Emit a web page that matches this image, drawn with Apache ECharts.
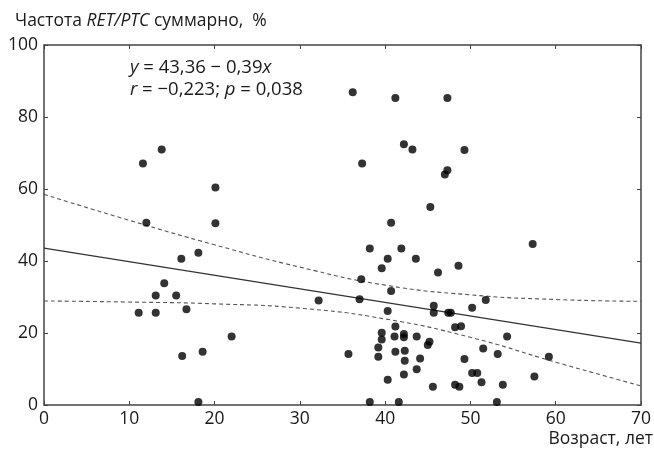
<!DOCTYPE html>
<html>
<head>
<meta charset="utf-8">
<script src="https://cdn.jsdelivr.net/npm/echarts@6/dist/echarts.min.js"></script>
<style>
  html, body { margin: 0; padding: 0; background: #fff; }
  #chart { width: 654px; height: 452px; }
</style>
</head>
<body>
<div id="chart"></div>
<script>
// Scatter points: [age, frequency %]
const pointsLeft = [
  [13.8,71.0],[11.6,67.1],[20.1,60.4],[12.0,50.6],[20.1,50.5],[16.1,40.6],[18.1,42.3],
  [14.1,33.8],[13.1,30.4],[15.5,30.4],[11.1,25.6],[13.1,25.6],[16.7,26.6],[22.0,19.0],
  [16.2,13.6],[18.6,14.8],[18.1,0.8]
];
const pointsTop = [
  [36.2,86.9],[41.2,85.3],[47.3,85.3],[42.2,72.4],[43.2,71.0],[37.3,67.1],[47.0,64.0],
  [47.3,65.2],[49.3,70.8]
];
const pointsMiddle = [
  [45.3,55.0],[40.7,50.6],[38.2,43.5],[41.9,43.5],[40.3,40.6],[43.6,40.6],[39.6,38.0],
  [46.2,36.8],[48.6,38.7],[37.2,34.9],[40.7,31.7],[32.2,29.0],[37.0,29.4],[45.7,27.6],
  [40.3,26.1],[45.7,25.6],[47.4,25.6],[47.7,25.6],[48.2,21.6],[48.9,21.9],[41.2,21.8],
  [39.6,20.1],[39.6,18.2],[41.1,19.0],[42.2,19.7],[42.2,18.8],[43.7,19.0],[45.2,17.6],
  [45.0,16.7],[35.7,14.2],[39.2,16.0],[39.2,13.4],[41.2,14.8],[42.3,15.1],[42.3,12.3],
  [44.1,12.9],[43.7,9.9],[42.2,8.5],[40.3,7.0],[45.6,5.1],[48.2,5.6],[48.7,5.1],
  [38.2,0.8],[41.6,0.8]
];
const pointsRight = [
  [57.3,44.7],[50.2,27.0],[51.8,29.2],[54.3,19.0],[51.5,15.7],[53.2,14.2],[49.3,12.8],
  [59.2,13.4],[50.2,8.9],[50.8,8.9],[51.3,6.3],[53.8,5.6],[57.5,7.9],[53.1,0.8]
];
// Regression line (read at ends)
const regressionLine = [[0,43.6],[70,17.2]];
// Confidence band curves
const upperBand = [[0,58.5],[10,51.3],[20,44.5],[30,38.3],[40,33.3],[50,30.6],[60,29.3],[70,28.8]];
const lowerBand = [[0,28.9],[10,28.6],[20,28.1],[30,26.9],[40,23.9],[50,18.8],[60,11.9],[70,5.3]];
// Axis ticks
const xTicks = { min: 0, max: 70, interval: 10 };
const yTicks = { min: 0, max: 100, interval: 20 };

const FONT = '"Open Sans", "Noto Sans", sans-serif';
const TXT = '#1a1a1a';
const AX = '#444';

const allPoints = pointsLeft.concat(pointsTop, pointsMiddle, pointsRight);

const chart = echarts.init(document.getElementById('chart'), null, { renderer: 'canvas' });

function frameAxis(extra) {
  return Object.assign({
    type: 'value',
    axisLine: { show: true, onZero: false, lineStyle: { color: AX, width: 1.5 } },
    axisTick: { show: true, inside: true, length: 4, lineStyle: { color: AX, width: 1 } },
    splitLine: { show: false },
    axisLabel: { show: false }
  }, extra);
}

chart.setOption({
  animation: false,
  backgroundColor: '#fff',
  grid: { left: 44, right: 8, top: 45, bottom: 47, containLabel: false },
  xAxis: [
    frameAxis({
      position: 'bottom', min: xTicks.min, max: xTicks.max, interval: xTicks.interval,
      axisLabel: { show: true, color: TXT, fontSize: 17.5, fontFamily: FONT, margin: 5 }
    }),
    frameAxis({ position: 'top', min: xTicks.min, max: xTicks.max, interval: xTicks.interval })
  ],
  yAxis: [
    frameAxis({
      position: 'left', min: yTicks.min, max: yTicks.max, interval: yTicks.interval,
      axisLabel: { show: true, color: TXT, fontSize: 17.5, fontFamily: FONT, margin: 6 }
    }),
    frameAxis({ position: 'right', min: yTicks.min, max: yTicks.max, interval: yTicks.interval })
  ],
  series: [
    {
      type: 'line', data: upperBand, smooth: true, symbol: 'none', silent: true,
      lineStyle: { color: '#555', width: 1.1, type: [4, 3] }, z: 2
    },
    {
      type: 'line', data: lowerBand, smooth: true, symbol: 'none', silent: true,
      lineStyle: { color: '#555', width: 1.1, type: [4, 3] }, z: 2
    },
    {
      type: 'line', data: regressionLine, symbol: 'none', silent: true,
      lineStyle: { color: '#333', width: 1.2 }, z: 2
    },
    {
      type: 'scatter', data: allPoints, symbol: 'circle', symbolSize: 8,
      itemStyle: { color: '#000' }, z: 3
    }
  ],
  graphic: [
    {
      type: 'text', left: 15, top: 12,
      style: {
        text: '{n|Частота }{i|RET/PTC}{n| суммарно,  %}',
        rich: {
          n: { fontSize: 17.5, fontFamily: FONT, fill: TXT },
          i: { fontSize: 17.5, fontFamily: FONT, fontStyle: 'italic', fill: TXT }
        }
      }
    },
    {
      type: 'text', left: 130, top: 58,
      style: {
        text: '{i|y}{n| = 43,36 − 0,39}{i|x}\n{i|r}{n| = −0,223; }{i|p}{n| = 0,038}',
        rich: {
          n: { fontSize: 18.5, fontFamily: FONT, fill: TXT, lineHeight: 22 },
          i: { fontSize: 18.5, fontFamily: FONT, fontStyle: 'italic', fill: TXT, lineHeight: 22 }
        }
      }
    },
    {
      type: 'text', right: 1, top: 430,
      style: { text: 'Возраст, лет', fontSize: 17.5, fontFamily: FONT, fill: TXT }
    }
  ]
});
</script>
</body>
</html>
